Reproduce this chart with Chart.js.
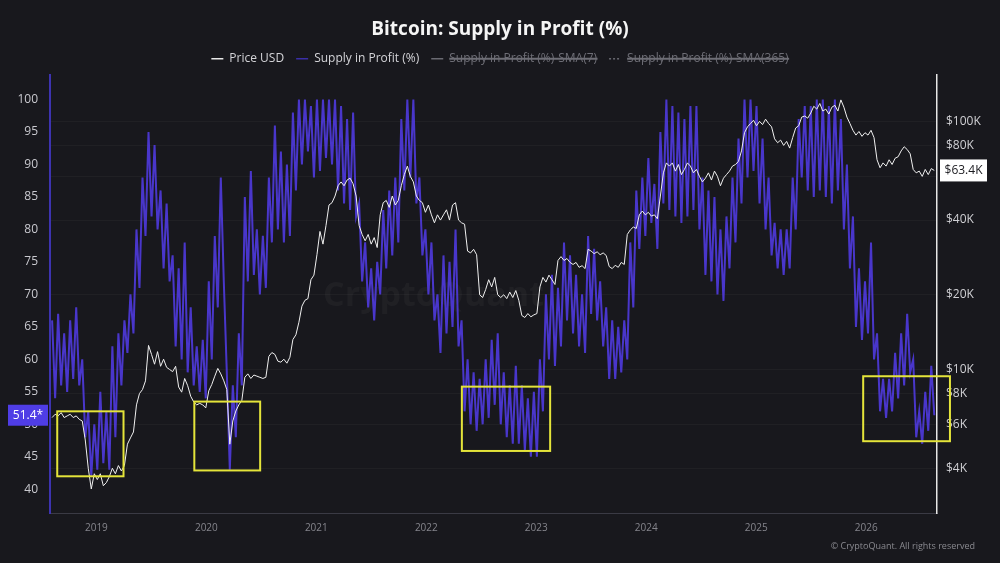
<!DOCTYPE html>
<html><head><meta charset="utf-8">
<script src="https://cdn.jsdelivr.net/npm/chart.js@4.4.1/dist/chart.umd.min.js"></script>
<style>
html,body{margin:0;padding:0;background:#18181d;}
#wrap{width:1000px;height:563px;position:relative;overflow:hidden;}
</style></head><body>
<div id="wrap"><canvas id="c" width="1000" height="563"></canvas></div>
<script>
// ---------- DATA ----------
const chartTitle = 'Bitcoin: Supply in Profit (%)';
const seriesNames = ['Price USD', 'Supply in Profit (%)', 'Supply in Profit (%)-SMA(7)', 'Supply in Profit (%)-SMA(365)'];
const firstDay = '2018-08-07';   // first sample
const stepDays = 10;             // one sample every 10 days

// Supply in Profit (%), left axis
const supplyInProfit = [
  66,54,67,56,64,55,66,57,68,56,
  60,48,52,42,50,43,55,44,52,43,
  62,48,64,56,66,61,70,64,80,71,
  88,79,95,82,93,80,86,74,84,72,
  76,62,74,60,78,58,68,56,62,55,
  63,54,72,60,79,68,88,72,58,43,
  56,48,64,56,85,72,89,73,80,70,
  79,71,88,78,96,80,92,78,90,79,
  98,86,100,90,100,92,99,88,100,89,
  100,91,100,90,100,86,99,84,97,83,
  98,82,84,72,78,68,74,66,75,70,
  83,74,86,76,88,78,97,86,100,88,
  100,84,88,76,80,70,78,66,70,61,
  76,64,75,65,80,62,66,52,60,50,
  58,49,57,50,60,51,63,53,64,50,
  58,48,56,47,59,47,56,46,54,45,
  55,45,60,52,70,60,73,59,71,62,
  78,66,76,64,73,62,70,61,79,67,
  77,66,72,62,68,57,66,57,65,58,
  66,60,78,68,86,77,88,79,91,81,
  87,77,95,84,100,83,99,82,98,81,
  97,82,99,83,99,80,88,73,86,72,
  85,70,80,69,82,74,88,78,94,84,
  100,88,100,89,99,84,94,80,88,76,
  81,74,80,73,80,74,88,80,97,88,
  99,86,99,85,100,86,100,85,99,84,
  100,86,97,80,90,74,82,65,74,63,
  72,64,78,60,64,52,57,51,57,52,
  61,54,64,56,67,58,60,48,52,47,
  55,49,59,51.4
];

// BTC price in thousands of USD, right (log) axis
const priceUSDk = [
  6.4,6.6,6.5,6.7,6.4,6.5,6.6,6.4,6.5,6.3,
  6.2,5.2,4.0,3.3,3.8,3.6,3.8,3.4,3.5,3.7,
  4.0,3.8,4.1,3.9,4.1,5.0,5.3,5.6,7.2,8.0,
  8.3,9.0,12.5,11.5,10.5,11.8,10.3,11.0,10.2,10.0,
  9.8,10.3,8.5,8.1,9.2,8.6,7.8,7.4,7.2,7.3,
  7.2,7.0,8.2,8.7,9.4,10.1,9.6,9.0,8.3,5.0,
  6.2,6.8,7.2,7.5,9.3,9.6,9.2,9.5,9.4,9.3,
  9.2,9.3,11.3,11.7,11.5,10.8,10.7,11.0,10.6,11.2,
  13.2,13.8,15.5,18.0,19.0,19.3,23.0,24.0,29.0,36.0,
  32,38,46,47,50,55,57,55,58,59,
  56,50,38,35,33,35,32,34,31,42,
  47,48,45,50,46,48,55,61,66,60,
  57,50,48,47,43,46,42,39,42,40,
  42,44,40,46,47,40,39,38.5,30,29.5,
  30.5,29,20,19.5,21,23,21.5,23.5,20,19.5,
  20,19.3,20.5,19.5,20.8,19,16.5,16.2,16.8,16.3,
  16.6,16.8,21.5,23.5,22.5,24,23,22,27.5,28.5,
  27.5,28,27,26.5,27,25.8,26.2,25.5,30.5,30,
  29.3,29.8,29,29.5,28.8,26,25.5,26.3,25.8,27,
  26.5,35,36.5,37.5,37,42,43.5,42,43,41.5,
  42,40.5,50,62,68,66,68,63,67,61,
  64,68,66,62,64,60,57,59,62,58,
  63,60,55,59,61,63,66,67,69,76,
  90,95,98,101,96,100,97,102,98,95,
  85,82,84,80,83,78,86,94,96,104,
  105,103,108,115,112,118,110,112,107,114,
  116,110,122,114,104,98,92,88,91,87,
  90,88,92,86,70,65,68,66,70,67,
  71,72,76,79,77,74,64,62,63,60,
  64,61,64.5,63.4
];

const leftTicks = [40,45,50,55,60,65,70,75,80,85,90,95,100];
const rightTicks = [4000,6000,8000,10000,20000,40000,60000,80000,100000];
const xTickYears = [2019,2020,2021,2022,2023,2024,2025,2026];
const xRange = ['2018-07-31','2026-08-24'];
const leftRange = [36.35, 103.8];
const rightRange = [2640, 154000];

// highlighted zones (yellow boxes), in data units
const boxFrom = ['2018-08-24','2019-11-22','2022-04-29','2025-12-22'];
const boxTo   = ['2019-04-01','2020-06-28','2023-02-16','2026-10-06'];
const boxLow  = [42.0, 42.9, 45.9, 47.4];
const boxHigh = [52.0, 53.5, 55.8, 57.4];

// ---------- HELPERS ----------
function toYear(d){
  const t = (typeof d === 'string') ? Date.parse(d + 'T00:00:00Z') : d;
  const y = new Date(t).getUTCFullYear();
  const s = Date.UTC(y,0,1), e = Date.UTC(y+1,0,1);
  return y + (t - s)/(e - s);
}
const t0 = Date.parse(firstDay + 'T00:00:00Z');
const xAt = i => toYear(t0 + i*stepDays*86400000);

const FONT = "'Open Sans','Noto Sans','DejaVu Sans',sans-serif";
Chart.defaults.font.family = FONT;

const purple = 'rgba(78,58,218,0.92)';

const overlay = {
  id:'overlay',
  beforeDraw(chart){
    const {ctx} = chart;
    ctx.save(); ctx.fillStyle = '#18181d'; ctx.fillRect(0,0,chart.width,chart.height); ctx.restore();
  },
  beforeDatasetsDraw(chart){
    const {ctx, chartArea:a} = chart;
    ctx.save();
    ctx.fillStyle = 'rgba(255,255,255,0.035)';
    ctx.font = "bold 34px " + FONT;
    ctx.textAlign='center'; ctx.textBaseline='middle';
    ctx.fillText('CryptoQuant', (a.left+a.right)/2 - 60, (a.top+a.bottom)/2 + 2);
    ctx.restore();
  },
  afterDraw(chart){
    const {ctx} = chart;
    const xs = chart.scales.x, yl = chart.scales.yL, yr = chart.scales.yR;
    ctx.save();
    // yellow boxes
    ctx.strokeStyle = '#e4e43a'; ctx.lineWidth = 2;
    for (let i=0;i<boxFrom.length;i++){
      const x1 = xs.getPixelForValue(toYear(boxFrom[i])), x2 = xs.getPixelForValue(toYear(boxTo[i]));
      const y1 = yl.getPixelForValue(boxHigh[i]), y2 = yl.getPixelForValue(boxLow[i]);
      ctx.strokeRect(x1, y1, x2-x1, y2-y1);
    }
    // last value label left
    const lastS = supplyInProfit[supplyInProfit.length-1];
    let y = yl.getPixelForValue(lastS);
    ctx.fillStyle = '#4f3de6';
    ctx.fillRect(8, y-10.5, 40, 21);
    ctx.fillStyle = '#ffffff'; ctx.font = "12px " + FONT;
    ctx.textAlign='center'; ctx.textBaseline='middle';
    ctx.fillText(lastS.toFixed(1)+'*', 28, y+0.5);
    // last value label right
    const lastP = priceUSDk[priceUSDk.length-1];
    y = yr.getPixelForValue(lastP*1000);
    ctx.fillStyle = '#ffffff';
    ctx.fillRect(940, y-11, 47, 22);
    ctx.fillStyle = '#1a1a1f';
    ctx.fillText('$'+lastP.toFixed(1)+'K', 963.5, y+0.5);
    // copyright
    ctx.fillStyle = '#8a8a90'; ctx.font = "9px " + FONT;
    ctx.textAlign='right';
    ctx.fillText('© CryptoQuant. All rights reserved', 975, 546);
    ctx.restore();
  }
};

const legendColors = ['#e8e8e8', '#3a2fa8', '#6a6a72', '#6a6a72'];

new Chart(document.getElementById('c'), {
  type:'line',
  data:{
    datasets:[
      {label:seriesNames[0], yAxisID:'yR', data: priceUSDk.map((v,i)=>({x:xAt(i), y:v*1000})),
       borderColor:'#f0f0f0', borderWidth:1, pointRadius:0, tension:0},
      {label:seriesNames[1], yAxisID:'yL', data: supplyInProfit.map((v,i)=>({x:xAt(i), y:v})),
       borderColor:purple, borderWidth:2, pointRadius:0, tension:0},
      {label:seriesNames[2], yAxisID:'yL', data:[], hidden:true, borderColor:'#8a8a92', borderWidth:1, pointRadius:0},
      {label:seriesNames[3], yAxisID:'yL', data:[], hidden:true, borderColor:'#8a8a92', borderWidth:1, borderDash:[2,2], pointRadius:0}
    ]
  },
  options:{
    responsive:false, animation:false, devicePixelRatio:1,
    layout:{padding:0},
    plugins:{
      title:{display:true, text:chartTitle, color:'#f5f5f5', font:{size:19, weight:'bold'}, padding:{top:18, bottom:0}},
      legend:{display:true, position:'top',
        labels:{color:'#d4d4d8', font:{size:12}, usePointStyle:true, pointStyleWidth:12, boxHeight:8, padding:12,
          generateLabels(chart){
            return chart.data.datasets.map((ds,i)=>{
              const vis = chart.isDatasetVisible(i);
              return {text:ds.label, datasetIndex:i, hidden:!vis, pointStyle:'line',
                fillStyle:legendColors[i], strokeStyle:legendColors[i], lineWidth:1.5,
                lineDash: ds.borderDash || [], fontColor: vis ? '#d4d4d8' : '#6e6e76'};
            });
          }}},
      tooltip:{enabled:false}
    },
    scales:{
      x:{type:'linear', min:toYear(xRange[0]), max:toYear(xRange[1]),
        grid:{display:false, drawTicks:false}, border:{color:'#3a3a44', width:1},
        ticks:{color:'#85858c', font:{size:10}, padding:9, maxRotation:0, autoSkip:false, callback:v=>String(v)},
        afterBuildTicks(s){ s.ticks = xTickYears.map(v=>({value:v})); },
        afterFit(s){ s.height = 50; }},
      yL:{type:'linear', position:'left', min:leftRange[0], max:leftRange[1],
        grid:{display:false, drawTicks:false}, border:{color:'#3d33b0', width:2},
        ticks:{color:'#c9c9cf', font:{size:12}, padding:12},
        afterBuildTicks(s){ s.ticks = leftTicks.map(v=>({value:v})); },
        afterFit(s){ s.width = 50; }},
      yR:{type:'logarithmic', position:'right', min:rightRange[0], max:rightRange[1],
        grid:{color:'rgba(255,255,255,0.035)', drawTicks:false}, border:{color:'#e6e6e6', width:1.5},
        ticks:{color:'#d0d0d4', font:{size:12}, padding:9, callback:v=>'$'+(v/1000)+'K'},
        afterBuildTicks(s){ s.ticks = rightTicks.map(v=>({value:v})); },
        afterFit(s){ s.width = 63; }}
    }
  },
  plugins:[overlay]
});
</script>
</body></html>
